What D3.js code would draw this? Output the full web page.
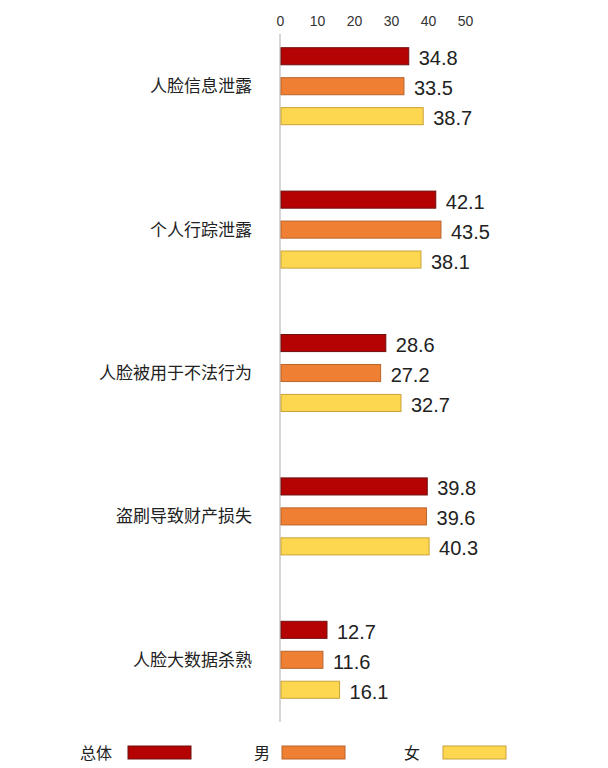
<!DOCTYPE html>
<html>
<head>
<meta charset="utf-8">
<script src="https://cdn.jsdelivr.net/npm/d3@7"></script>
<style>
  body { margin: 0; background: #fff; }
  svg text { font-family: "Liberation Sans", Arial, "Noto Sans CJK SC", sans-serif; }
  .cat { font-family: "Noto Sans CJK SC", sans-serif; }
</style>
</head>
<body>
<svg width="608" height="768"></svg>
<script>
// categories and the three series (percent)
const categories = ['人脸信息泄露', '个人行踪泄露', '人脸被用于不法行为', '盗刷导致财产损失', '人脸大数据杀熟']
const seriesNames = ['总体', '男', '女']
const total = [34.8, 42.1, 28.6, 39.8, 12.7]
const male = [33.5, 43.5, 27.2, 39.6, 11.6]
const female = [38.7, 38.1, 32.7, 40.3, 16.1]
const tickValues = [0, 10, 20, 30, 40, 50]

const fills = ['#b50303', '#ef7f33', '#fdd74f']
const strokes = ['#6f1010', '#b9652c', '#caa23a']

const svg = d3.select('svg')
const seriesData = [total, male, female]

const x = d3.scaleLinear().domain([0, 50]).range([280, 465])
// group slots, then three bars inside each slot
const y = d3.scaleBand().domain(categories).range([15, 732]).paddingInner(0).paddingOuter(0)
const yInner = d3.scaleBand().domain(seriesNames).range([-39, 38]).paddingInner(0.43).paddingOuter(0)

// tick labels on top (no tick lines)
const xAxis = d3.axisTop(x).tickValues(tickValues).tickSize(0).tickPadding(0)
svg.append('g')
  .attr('transform', 'translate(0,26)')
  .call(xAxis)
  .call(g => g.select('.domain').remove())
  .selectAll('text')
  .attr('font-size', 14)
  .attr('fill', '#333')
  .attr('font-family', '"Liberation Sans", Arial, sans-serif')

// vertical baseline
svg.append('line')
  .attr('x1', x(0)).attr('x2', x(0))
  .attr('y1', 34).attr('y2', 722)
  .attr('stroke', '#c8c8c8').attr('stroke-width', 1.5)

const groups = svg.selectAll('g.group')
  .data(categories)
  .enter().append('g')
  .attr('class', 'group')
  .attr('transform', d => `translate(0,${y(d) + y.bandwidth() / 2})`)

groups.append('text')
  .attr('class', 'cat')
  .attr('x', 252)
  .attr('y', -2)
  .attr('text-anchor', 'end')
  .attr('dominant-baseline', 'central')
  .attr('font-size', 17)
  .attr('fill', '#222')
  .text(d => d)

groups.each(function (cat, ci) {
  const g = d3.select(this)
  const rows = seriesNames.map((s, si) => ({ s, si, v: seriesData[si][ci] }))
  g.selectAll('rect')
    .data(rows)
    .enter().append('rect')
    .attr('x', x(0) + 1)
    .attr('y', d => yInner(d.s))
    .attr('width', d => x(d.v) - x(0) - 1)
    .attr('height', yInner.bandwidth())
    .attr('fill', d => fills[d.si])
    .attr('stroke', d => strokes[d.si])
    .attr('stroke-width', 1)
  g.selectAll('text.val')
    .data(rows)
    .enter().append('text')
    .attr('class', 'val')
    .attr('x', d => x(d.v) + 10)
    .attr('y', d => yInner(d.s) + yInner.bandwidth() / 2 + 2)
    .attr('dominant-baseline', 'central')
    .attr('font-size', 20)
    .attr('fill', '#222')
    .text(d => d.v.toFixed(1))
})

// legend
const legendX = d3.scalePoint().domain(seriesNames).range([112, 420])
const legend = svg.selectAll('g.legend')
  .data(seriesNames)
  .enter().append('g')
  .attr('class', 'legend')
  .attr('transform', d => `translate(${legendX(d)},752)`)

legend.append('text')
  .attr('class', 'cat')
  .attr('x', (d, i) => i === 1 ? 4 : 0)
  .attr('text-anchor', 'end')
  .attr('dominant-baseline', 'central')
  .attr('font-size', 16)
  .attr('fill', '#222')
  .text(d => d)

legend.append('rect')
  .attr('x', (d, i) => i === 0 ? 16 : (i === 1 ? 16 : 23))
  .attr('y', -6)
  .attr('width', 63)
  .attr('height', 13)
  .attr('fill', (d, i) => fills[i])
  .attr('stroke', (d, i) => strokes[i])
</script>
</body>
</html>
